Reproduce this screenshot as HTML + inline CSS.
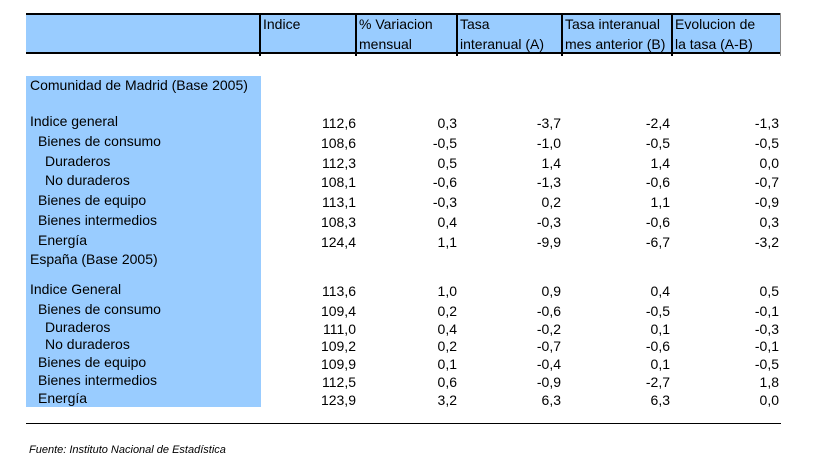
<!DOCTYPE html>
<html><head><meta charset="utf-8">
<style>
body{margin:0;width:825px;height:471px;background:#fff;position:relative;overflow:hidden;font-family:"Liberation Sans",Arial,sans-serif;font-size:14px;color:#000}
.a{position:absolute}
.hdr{position:absolute;left:26px;top:13px;width:755px;height:41px;background:#99ccff;border-top:2px solid #000;border-bottom:2px solid #000;box-sizing:border-box}
.vl{position:absolute;top:13px;width:2px;height:43px;background:#000}
.ht{position:absolute;line-height:20px;top:14px}
.num{position:absolute;text-align:right;width:90px;line-height:16px}
.lab{position:absolute;line-height:16px;white-space:nowrap}
</style></head><body>
<div class="hdr"></div>
<div class="vl" style="left:259px"></div>
<div class="vl" style="left:355px"></div>
<div class="vl" style="left:456px"></div>
<div class="vl" style="left:561px"></div>
<div class="vl" style="left:671px"></div>
<div class="vl" style="left:780px;width:1px;background:#888"></div>
<div class="ht" style="left:263px">Indice</div>
<div class="ht" style="left:359px">% Variacion<br>mensual</div>
<div class="ht" style="left:460px">Tasa<br>interanual (A)</div>
<div class="ht" style="left:565px">Tasa interanual<br>mes anterior (B)</div>
<div class="ht" style="left:675px">Evolucion de<br>la tasa (A-B)</div>
<div class="a" style="left:26px;top:76px;width:235px;height:331px;background:#99ccff"></div>
<div class="a" style="left:26px;top:423px;width:755px;height:1px;background:#000"></div>
<div class="a" style="left:29px;top:444px;font-size:11px;font-style:italic">Fuente: Instituto Nacional de Estadística</div>
<div id="rows"></div>
<script>
const labels=["Comunidad de Madrid (Base 2005)","Indice general","Bienes de consumo","Duraderos","No duraderos","Bienes de equipo","Bienes intermedios","Energía","España (Base 2005)","Indice General","Bienes de consumo","Duraderos","No duraderos","Bienes de equipo","Bienes intermedios","Energía"];
const indent=[0,0,1,2,2,1,1,1,0,0,1,2,2,1,1,1];
const rowY=[86,122,142,162,181,201,221,241,260,290,310,328,345,363,381,399];
const indice=[null,"112,6","108,6","112,3","108,1","113,1","108,3","124,4",null,"113,6","109,4","111,0","109,2","109,9","112,5","123,9"];
const variacion=[null,"0,3","-0,5","0,5","-0,6","-0,3","0,4","1,1",null,"1,0","0,2","0,4","0,2","0,1","0,6","3,2"];
const tasaA=[null,"-3,7","-1,0","1,4","-1,3","0,2","-0,3","-9,9",null,"0,9","-0,6","-0,2","-0,7","-0,4","-0,9","6,3"];
const tasaB=[null,"-2,4","-0,5","1,4","-0,6","1,1","-0,6","-6,7",null,"0,4","-0,5","0,1","-0,6","0,1","-2,7","6,3"];
const evol=[null,"-1,3","-0,5","0,0","-0,7","-0,9","0,3","-3,2",null,"0,5","-0,1","-0,3","-0,1","-0,5","1,8","0,0"];
const cols=[indice,variacion,tasaA,tasaB,evol];
const colRight=[356,457,561,670,779];
const colNames=["indice","variacion","tasa-a","tasa-b","evolucion"];
const host=document.getElementById('rows');
labels.forEach((t,i)=>{
  const d=document.createElement('div');
  d.className='lab';
  d.style.left=(30+indent[i]*7+(indent[i]>0?1:0))+'px';
  d.style.top=(rowY[i]-9)+'px';
  d.textContent=t;
  
  
  host.appendChild(d);
  cols.forEach((c,j)=>{
    if(c[i]==null)return;
    const n=document.createElement('div');
    n.className='num';
    n.style.left=(colRight[j]-90)+'px';
    n.style.top=(rowY[i]-7)+'px';
    n.textContent=c[i];
    
    
    host.appendChild(n);
  });
});
</script>
</body></html>
